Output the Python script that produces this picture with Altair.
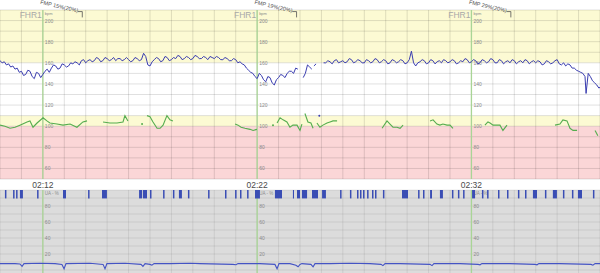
import altair as alt
import pandas as pd

# ---------------- data (time = minutes after 02:10) ----------------
T_DOMAIN = [0, 28]
MAJOR_T = [2, 12, 22]
MAJOR_LABEL = ["02:12", "02:22", "02:32"]
FMP_LABEL = ["FMP 15%(20%)", "FMP 19%(20%)", "FMP 29%(20%)"]
MINUTE_T = [0, 1, 2, 3, 4, 5, 6, 7, 8, 9, 10, 11, 12, 13, 14, 15, 16, 17, 18, 19, 20,
            21, 22, 23, 24, 25, 26, 27, 28]

FHR_TICKS = [200, 180, 160, 140, 120, 100, 80, 60]
FHR_GRID = [50, 60, 70, 80, 90, 100, 110, 120, 130, 140, 150, 160, 170, 180, 190, 200, 210]
UA_TICKS = [80, 60, 40, 20]
UA_GRID = [0, 10, 20, 30, 40, 50, 60, 70, 80, 90, 100]

ZONE_LO = [160, 110, 100, 50]
ZONE_HI = [210, 160, 110, 100]
ZONE_COLOR = ["#fcfad3", "#ffffff", "#fcfad3", "#fbd6d7"]

# FHR1 (blue) trace, bpm ; None = signal loss
FHR_T = [0.0, 0.1, 0.2, 0.3, 0.4, 0.5, 0.6, 0.7, 0.8, 0.9,
         1.0, 1.1, 1.2, 1.3, 1.4, 1.5, 1.6, 1.7, 1.8, 1.9,
         2.0, 2.1, 2.2, 2.3, 2.4, 2.5, 2.6, 2.7, 2.8, 2.9,
         3.0, 3.1, 3.2, 3.3, 3.4, 3.5, 3.6, 3.7, 3.8, 3.9,
         4.0, 4.1, 4.2, 4.3, 4.4, 4.5, 4.6, 4.7, 4.8, 4.9,
         5.0, 5.1, 5.2, 5.3, 5.4, 5.5, 5.6, 5.7, 5.8, 5.9,
         6.0, 6.1, 6.2, 6.3, 6.4, 6.5, 6.6, 6.7, 6.8, 6.9,
         7.0, 7.1, 7.2, 7.3, 7.4, 7.5, 7.6, 7.7, 7.8, 7.9,
         8.0, 8.1, 8.2, 8.3, 8.4, 8.5, 8.6, 8.7, 8.8, 8.9,
         9.0, 9.1, 9.2, 9.3, 9.4, 9.5, 9.6, 9.7, 9.8, 9.9,
         10.0, 10.1, 10.2, 10.3, 10.4, 10.5, 10.6, 10.7, 10.8, 10.9,
         11.0, 11.1, 11.2, 11.3, 11.4, 11.5, 11.6, 11.7, 11.8, 11.9,
         12.0, 12.1, 12.2, 12.3, 12.4, 12.5, 12.6, 12.7, 12.8, 12.9,
         13.0, 13.1, 13.2, 13.3, 13.4, 13.5, 13.6, 13.7, 13.8, 13.9,
         14.0, 14.15, 14.25, 14.35, 14.45, 14.55, 14.6, 14.65, 14.75, 14.85, 14.9, 14.95,
         15.1, 15.2, 15.3, 15.4, 15.5, 15.6, 15.7, 15.8, 15.9,
         16.0, 16.1, 16.2, 16.3, 16.4, 16.5, 16.6, 16.7, 16.8, 16.9,
         17.0, 17.1, 17.2, 17.3, 17.4, 17.5, 17.6, 17.7, 17.8, 17.9,
         18.0, 18.1, 18.2, 18.3, 18.4, 18.5, 18.6, 18.7, 18.8, 18.9,
         19.0, 19.1, 19.2, 19.3, 19.4, 19.5, 19.6, 19.7, 19.8, 19.9,
         20.0, 20.1, 20.2, 20.3, 20.4, 20.5, 20.6, 20.7, 20.8, 20.9,
         21.0, 21.1, 21.2, 21.3, 21.4, 21.5, 21.6, 21.7, 21.8, 21.9,
         22.0, 22.1, 22.2, 22.3, 22.4, 22.5, 22.6, 22.7, 22.8, 22.9,
         23.0, 23.1, 23.2, 23.3, 23.4, 23.5, 23.6, 23.7, 23.8, 23.9,
         24.0, 24.1, 24.2, 24.3, 24.4, 24.5, 24.6, 24.7, 24.8, 24.9,
         25.0, 25.1, 25.2, 25.3, 25.4, 25.5, 25.6, 25.7, 25.8, 25.9,
         26.0, 26.1, 26.2, 26.3, 26.4, 26.5, 26.6, 26.7, 26.8, 26.9,
         27.0, 27.1, 27.2, 27.3, 27.35, 27.45, 27.55, 27.65, 27.75, 27.85, 27.95, 28.0]
FHR_V = [162, 160, 161, 158, 159, 156, 157, 154, 155, 151,
         152, 148, 149, 153, 152, 147, 145, 151, 150, 146,
         149, 152, 154, 151, 155, 158, 157, 154, 155, 159,
         158, 156, 157, 160, 159, 161, 160, 158, 162, 163,
         160, 162, 163, 161, 162, 165, 164, 161, 162, 165,
         164, 162, 163, 165, 162, 164, 164, 162, 163, 165,
         163, 161, 162, 165, 164, 162, 163, 169, 166, 158,
         157, 161, 163, 165, 164, 161, 162, 166, 165, 162,
         163, 165, 164, 167, 166, 163, 164, 166, 165, 163,
         164, 167, 166, 164, 164, 166, 165, 163, 166, 165,
         164, 166, 165, 163, 163, 165, 164, 162, 162, 164,
         163, 160, 161, 159, 158, 155, 153, 151, 150, 147,
         145, 150, 148, 144, 142, 147, 146, 141, 139, 144,
         146, 149, 148, 146, 150, 152, 152, 150, 155, 154,
         None, 146, 150, 158, 156, 154, None, 157, 159, None, 110, None,
         160, 160, 162, 161, 159, 162, 163, 160, 161,
         162, 160, 161, 164, 163, 160, 161, 163, 162, 160,
         160, 163, 162, 160, 161, 164, 163, 160, 161, 163,
         162, 159, 160, 163, 162, 160, 161, 163, 162, 159,
         160, 163, 171, 160, 157, 160, 161, 163, 162, 159,
         160, 163, 162, 159, 161, 162, 160, 163, 162, 160,
         161, 163, 162, 159, 160, 162, 161, 164, 163, 160,
         161, 163, 162, 159, 160, 163, 162, 160, 161, 164,
         163, 160, 160, 163, 162, 159, 161, 162, 160, 163,
         162, 159, 161, 162, 160, 163, 162, 159, 161, 162,
         160, 162, 161, 158, 159, 162, 161, 159, 160, 162,
         163, 159, 158, 160, 157, 159, 158, 155, 155, 153,
         152, 151, 150, 147, 131, 150, 147, 143, 141, 139, 136, 137]

# second heart-rate trace (green), bpm ; None = signal loss
HR2_T = [0.00, 0.23, 0.47, 0.70, 0.93, 1.26, 1.40, 1.54, 1.73, 2.01, 2.19, 2.33, 2.66,
         2.94, 3.27, 3.59, 3.87, 4.06, 4.1,
         4.81, 5.13, 5.46, 5.74, 5.83, 5.97, 6.0,
         6.63, 6.7,
         6.86, 7.00, 7.14, 7.33, 7.47, 7.61, 7.79, 7.93, 8.07, 8.1,
         10.97, 11.11, 11.25, 11.43, 11.67, 11.81, 11.99, 12.0,
         12.74, 12.8,
         12.93, 13.07, 13.21, 13.39, 13.53, 13.67, 13.86, 14.00, 14.09, 14.1,
         14.23, 14.37, 14.51, 14.61, 14.7,
         14.79, 14.93, 15.07, 15.26, 15.40, 15.54, 15.73, 15.8,
         17.83, 18.06, 18.20, 18.34, 18.53, 18.67, 18.81, 18.9,
         20.07, 20.21, 20.39, 20.53, 20.67, 20.86, 21.00, 21.14, 21.2,
         22.63, 22.77, 22.87, 23.01, 23.19, 23.33, 23.47, 23.66, 23.7,
         25.90, 26.13, 26.27, 26.46, 26.60, 26.74, 26.93, 27.0,
         27.77, 27.90]
HR2_V = [101, 100, 98, 99, 101, 104, 105, 99, 103, 108, 105, 103, 102,
         101, 102, 99, 104, 105, None,
         104, 103, 103, 104, 110, 105, None,
         102, None,
         110, 109, 104, 98, 98, 101, 110, 106, 105, None,
         102, 101, 99, 98, 97, 96, 97, None,
         101, None,
         103, 108, 106, 104, 99, 101, 101, 96, 102, None,
         112, 104, 103, 98, None,
         103, 99, 101, 103, 104, 105, 105, None,
         98, 105, 102, 99, 99, 98, 101, None,
         105, 106, 102, 101, 102, 101, 101, 98, None,
         101, 104, 103, 101, 101, 101, 96, 101, None,
         101, 102, 106, 105, 98, 96, 96, None,
         96, 91]

# uterine activity, %
UA_T = [0.00, 0.70, 0.93, 1.03, 1.12, 1.87, 2.57, 2.89, 2.99, 3.08, 4.20, 4.81, 4.90, 4.99,
        5.83, 6.58, 6.67, 6.77, 7.00, 7.09, 7.19, 7.93, 8.87, 9.33, 10.87, 11.01, 11.11,
        12.13, 12.83, 12.93, 13.02, 13.53, 13.81, 13.91, 14.00, 14.09, 14.51, 14.61, 14.70,
        15.40, 16.33, 17.27, 17.78, 17.87, 17.97, 18.67, 20.07, 20.16, 20.25, 21.47, 22.31,
        22.40, 22.49, 23.80, 24.97, 25.06, 25.15, 26.13, 27.58, 27.67, 27.77, 28.00]
UA_V = [8, 8, 7.5, 4.5, 8, 8.5, 8, 7, 1.5, 8, 8.5, 7, 1.5, 8,
        8.5, 7, 4.5, 8, 7, 6, 8, 8, 8.5, 8, 7, 6.5, 8,
        8, 7, 1.5, 8, 8, 6, 4, 7, 8, 7, 4, 8,
        8, 8.5, 8, 7, 5.5, 8, 8, 7, 5.5, 8, 8, 7,
        6.5, 8, 8, 7, 6.5, 8, 8, 7, 6, 8, 8]

# fetal movement marks (start / end, minutes)
MOVE_START = [0.23, 0.61, 0.75, 0.93, 1.73, 2.94, 4.11, 4.76, 6.49, 6.67, 7.00, 7.61, 8.07,
              8.35, 8.77, 9.71, 10.50, 10.97, 11.20, 11.53, 11.90, 12.83, 13.67, 13.86,
              14.09, 14.56, 15.03, 15.87, 16.33, 16.66, 16.80, 16.94, 17.13, 17.36, 17.50,
              17.87, 18.76, 19.51, 19.74, 20.07, 20.53, 21.09, 21.37, 21.61, 22.03, 22.49,
              22.73, 23.24, 23.66, 24.17, 24.50, 24.87, 25.43, 25.80, 26.27, 26.69, 26.97,
              27.67]
MOVE_END = [0.30, 0.68, 0.82, 1.07, 1.80, 3.08, 4.18, 4.99, 6.63, 6.86, 7.07, 7.68, 8.14,
            8.49, 8.84, 9.78, 10.57, 11.04, 11.27, 11.60, 12.13, 13.16, 13.72, 14.00,
            14.33, 14.84, 15.21, 15.94, 16.40, 16.73, 16.87, 17.01, 17.20, 17.43, 17.57,
            17.94, 19.04, 19.58, 19.81, 20.16, 20.67, 21.16, 21.44, 21.68, 22.17, 22.56,
            22.80, 23.31, 23.73, 24.24, 24.57, 25.06, 25.50, 25.99, 26.34, 26.76, 27.16,
            27.74]

# ---------------- helpers ----------------
FONT = "Liberation Sans"


def segmented(ts, vs):
    rows, seg = [], 0
    for t, v in zip(ts, vs):
        if v is None:
            seg += 1
            continue
        rows.append({"t": t, "v": v, "seg": seg})
    df = pd.DataFrame(rows)
    df["n"] = df.groupby("seg")["t"].transform("size")
    return df


xs = alt.Scale(domain=T_DOMAIN, nice=False, zero=False)
fhr_y = alt.Scale(domain=[50, 210], range=[179, 10], nice=False, zero=False)
ua_y = alt.Scale(domain=[0, 100], range=[270, 190], nice=False, zero=False)


def X(f):
    return alt.X(f, type="quantitative", scale=xs, axis=None)


def YF(f):
    return alt.Y(f, type="quantitative", scale=fhr_y, axis=None)


def YU(f):
    return alt.Y(f, type="quantitative", scale=ua_y, axis=None)


# ---------------- FHR panel ----------------
zones = alt.Chart(pd.DataFrame({"t0": T_DOMAIN[0], "t1": T_DOMAIN[1], "lo": ZONE_LO,
                                "hi": ZONE_HI, "c": ZONE_COLOR})).mark_rect().encode(
    x=X("t0"), x2="t1", y=YF("lo"), y2="hi", color=alt.Color("c:N", scale=None))

f_hgrid = alt.Chart(pd.DataFrame({"v": FHR_GRID})).mark_rule(
    color="#000000", opacity=0.12, strokeWidth=1).encode(y=YF("v"))

f_vgrid = alt.Chart(pd.DataFrame({"t": MINUTE_T, "lo": 50, "hi": 210})).mark_rule(
    color="#000000", opacity=0.12, strokeWidth=1).encode(x=X("t"), y=YF("lo"), y2="hi")

f_major = alt.Chart(pd.DataFrame({"t": MAJOR_T, "lo": 50, "hi": 210})).mark_rule(
    color="#a9d596", strokeWidth=1.3).encode(x=X("t"), y=YF("lo"), y2="hi")

f_lbl = pd.DataFrame([{"t": t, "v": v, "s": str(v)} for t in MAJOR_T for v in FHR_TICKS])
f_ticks = alt.Chart(f_lbl).mark_text(align="left", baseline="middle", dx=2, fontSize=5,
                                     font=FONT, color="#8c8c8c").encode(
    x=X("t"), y=YF("v"), text="s:N")

f_bpm = alt.Chart(pd.DataFrame({"t": MAJOR_T, "v": 206, "s": "bpm"})).mark_text(
    align="left", baseline="middle", dx=2, fontSize=4, font=FONT, color="#8c8c8c").encode(
    x=X("t"), y=YF("v"), text="s:N")

f_name = alt.Chart(pd.DataFrame({"t": MAJOR_T, "v": 205, "s": "FHR1"})).mark_text(
    align="right", baseline="middle", dx=-1, fontSize=8.5, font=FONT, color="#a8a8a8").encode(
    x=X("t"), y=YF("v"), text="s:N")

fmp_df = pd.DataFrame({"t": [t + 1.63 for t in MAJOR_T], "v": 207.6, "s": FMP_LABEL})
f_fmp = alt.Chart(fmp_df).mark_text(align="right", baseline="alphabetic", angle=13,
                                    fontSize=5.5, font=FONT, color="#505050").encode(
    x=X("t"), y=YF("v"), text="s:N")

br_h = pd.DataFrame({"t": [t + 1.64 for t in MAJOR_T], "t2": [t + 1.84 for t in MAJOR_T],
                     "v": 208.5})
f_br_h = alt.Chart(br_h).mark_rule(color="#505050", strokeWidth=0.8).encode(
    x=X("t"), x2="t2", y=YF("v"))
br_v = pd.DataFrame({"t": [t + 1.84 for t in MAJOR_T], "v": 208.5, "v2": 203})
f_br_v = alt.Chart(br_v).mark_rule(color="#505050", strokeWidth=0.8).encode(
    x=X("t"), y=YF("v"), y2="v2")

time_lbl = alt.Chart(pd.DataFrame({"t": MAJOR_T, "v": 44.5, "s": MAJOR_LABEL})).mark_text(
    align="center", baseline="middle", fontSize=8.5, font=FONT, color="#4a4a4a").encode(
    x=X("t"), y=YF("v"), text="s:N")

hr2 = segmented(HR2_T, HR2_V)
hr2_line = alt.Chart(hr2[hr2.n > 1]).mark_line(color="#55ad4f", strokeWidth=1.1).encode(
    x=X("t"), y=YF("v"), detail="seg:N", order="t:Q")
hr2_dot = alt.Chart(hr2[hr2.n == 1]).mark_circle(color="#55ad4f", size=4, opacity=1).encode(
    x=X("t"), y=YF("v"))

fhr = segmented(FHR_T, FHR_V)
fhr_line = alt.Chart(fhr[fhr.n > 1]).mark_line(color="#3a3db0", strokeWidth=1.0).encode(
    x=X("t"), y=YF("v"), detail="seg:N", order="t:Q")
fhr_dot = alt.Chart(fhr[fhr.n == 1]).mark_circle(color="#3a3db0", size=4, opacity=1).encode(
    x=X("t"), y=YF("v"))

fhr_panel = alt.layer(zones, f_hgrid, f_vgrid, f_major, f_ticks, f_bpm, f_name, f_fmp,
                      f_br_h, f_br_v, time_lbl, hr2_line, hr2_dot, fhr_line, fhr_dot)

# ---------------- UA panel ----------------
ua_bg = alt.Chart(pd.DataFrame({"t0": [T_DOMAIN[0]], "t1": [T_DOMAIN[1]], "lo": [-5],
                                "hi": [100]})).mark_rect(color="#dcdcdc").encode(
    x=X("t0"), x2="t1", y=YU("lo"), y2="hi")

u_hgrid = alt.Chart(pd.DataFrame({"v": UA_GRID})).mark_rule(
    color="#000000", opacity=0.08, strokeWidth=1).encode(y=YU("v"))

u_vgrid = alt.Chart(pd.DataFrame({"t": MINUTE_T, "lo": -5, "hi": 100})).mark_rule(
    color="#000000", opacity=0.08, strokeWidth=1).encode(x=X("t"), y=YU("lo"), y2="hi")

u_major = alt.Chart(pd.DataFrame({"t": MAJOR_T, "lo": -5, "hi": 100})).mark_rule(
    color="#a9d596", strokeWidth=1.3).encode(x=X("t"), y=YU("lo"), y2="hi")

u_lbl = pd.DataFrame([{"t": t, "v": v, "s": str(v)} for t in MAJOR_T for v in UA_TICKS])
u_ticks = alt.Chart(u_lbl).mark_text(align="left", baseline="middle", dx=2, fontSize=5,
                                     font=FONT, color="#8c8c8c").encode(
    x=X("t"), y=YU("v"), text="s:N")
u_name = alt.Chart(pd.DataFrame({"t": MAJOR_T, "v": 95, "s": "UA - %"})).mark_text(
    align="left", baseline="middle", dx=2, fontSize=4.5, font=FONT, color="#8c8c8c").encode(
    x=X("t"), y=YU("v"), text="s:N")

moves = alt.Chart(pd.DataFrame({"t0": MOVE_START, "t1": MOVE_END, "lo": 89.5, "hi": 100})
                  ).mark_rect(color="#3a4db4").encode(x=X("t0"), x2="t1", y=YU("lo"), y2="hi")

ua_line = alt.Chart(pd.DataFrame({"t": UA_T, "v": UA_V})).mark_line(
    color="#4554c4", strokeWidth=1.1).encode(x=X("t"), y=YU("v"), order="t:Q")

ua_panel = alt.layer(ua_bg, u_hgrid, u_vgrid, u_major, u_ticks, u_name, moves, ua_line)

chart = alt.layer(fhr_panel, ua_panel).resolve_scale(y="independent").properties(
    width=600, height=273, autosize=alt.AutoSizeParams(type="none"), padding=0,
    background="#ffffff").configure_view(stroke=None)

chart.save("out.html", embed_options={"renderer": "svg", "actions": False})
